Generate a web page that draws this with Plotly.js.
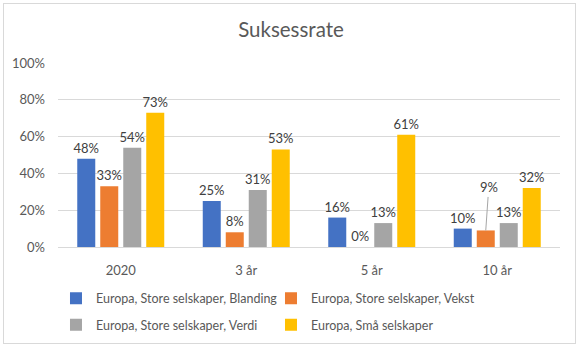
<!DOCTYPE html>
<html>
<head>
<meta charset="utf-8">
<script src="https://cdn.plot.ly/plotly-3.0.1.min.js"></script>
<style>
  html, body { margin: 0; padding: 0; background: #fff; }
  #frame { position: absolute; left: 3px; top: 3px; width: 573px; height: 341px; border: 1px solid #D9D9D9; box-sizing: border-box; pointer-events: none; z-index: 5; }
  #chart { position: absolute; left: 0; top: 0; width: 582px; height: 352px; }
</style>
</head>
<body>
<div id="chart"></div>
<div id="frame"></div>
<script>
const categories = ['2020', '3 år', '5 år', '10 år'];
const seriesNames = [
  'Europa, Store selskaper, Blanding',
  'Europa, Store selskaper, Vekst',
  'Europa, Store selskaper, Verdi',
  'Europa, Små selskaper'
];
const blanding = [48, 25, 16, 10];
const vekst = [33, 8, 0, 9];
const verdi = [54, 31, 13, 13];
const smaa = [73, 53, 61, 32];
const yTicks = [0, 20, 40, 60, 80, 100];

const colors = ['#4472C4', '#ED7D31', '#A5A5A5', '#FFC000'];
const allValues = [blanding, vekst, verdi, smaa];
const legends = ['legend', 'legend', 'legend2', 'legend2'];
const FONT = 'Lato, "Open Sans", sans-serif';

// label moved out with a leader line (Vekst, 10 år)
const movedSeries = 1, movedIndex = 3;

const traces = allValues.map((vals, s) => ({
  type: 'bar',
  name: seriesNames[s],
  x: categories,
  y: vals,
  marker: { color: colors[s] },
  text: vals.map((v, i) => (s === movedSeries && i === movedIndex) ? '' : v + '%'),
  textposition: 'outside',
  constraintext: 'none',
  textfont: { family: FONT, size: 13, color: '#404040' },
  cliponaxis: false,
  legend: legends[s],
  hoverinfo: 'none'
}));

const slot = 23; // px per bar slot inside a group
const legendFont = { family: FONT, size: 12.5, color: '#595959' };
const layout = {
  width: 582, height: 352,
  margin: { l: 58, r: 22, t: 63, b: 102 },
  paper_bgcolor: '#fff', plot_bgcolor: '#fff',
  font: { family: FONT, color: '#595959', size: 13 },
  title: { text: 'Suksessrate', font: { family: FONT, size: 20.5, color: '#595959' }, x: 0.5, xanchor: 'center', y: 0.915, yanchor: 'middle' },
  barmode: 'group',
  bargap: 0.267,
  bargroupgap: 0.217,
  xaxis: {
    type: 'category',
    showgrid: false,
    showline: true, linecolor: '#D9D9D9', linewidth: 1,
    ticks: '', ticklabelstandoff: 11,
    tickfont: { family: FONT, size: 13, color: '#595959' },
    fixedrange: true
  },
  yaxis: {
    range: [0, 100],
    tickvals: yTicks,
    ticktext: yTicks.map(t => t + '%'),
    showgrid: true, gridcolor: '#D9D9D9', gridwidth: 1,
    zeroline: false, showline: false,
    ticks: '', ticklabelstandoff: 12,
    tickfont: { family: FONT, size: 13, color: '#595959' },
    fixedrange: true
  },
  legend: {
    orientation: 'h', x: -0.004, xanchor: 'left', y: -0.28, yanchor: 'middle',
    entrywidth: 170, entrywidthmode: 'pixels',
    font: legendFont, traceorder: 'normal'
  },
  legend2: {
    orientation: 'h', x: -0.004, xanchor: 'left', y: -0.425, yanchor: 'middle',
    entrywidth: 170, entrywidthmode: 'pixels',
    font: legendFont, traceorder: 'normal'
  },
  annotations: [{
    x: categories[movedIndex], y: allValues[movedSeries][movedIndex],
    xref: 'x', yref: 'y',
    xshift: (movedSeries - 1.5) * slot,
    text: allValues[movedSeries][movedIndex] + '%',
    showarrow: true, arrowhead: 0, arrowwidth: 1, arrowcolor: '#A6A6A6',
    ax: 3, ay: -43, standoff: 0,
    font: { family: FONT, size: 13, color: '#404040' }
  }],
  showlegend: true
};

Plotly.newPlot('chart', traces, layout, { displayModeBar: false, staticPlot: true });
</script>
</body>
</html>
